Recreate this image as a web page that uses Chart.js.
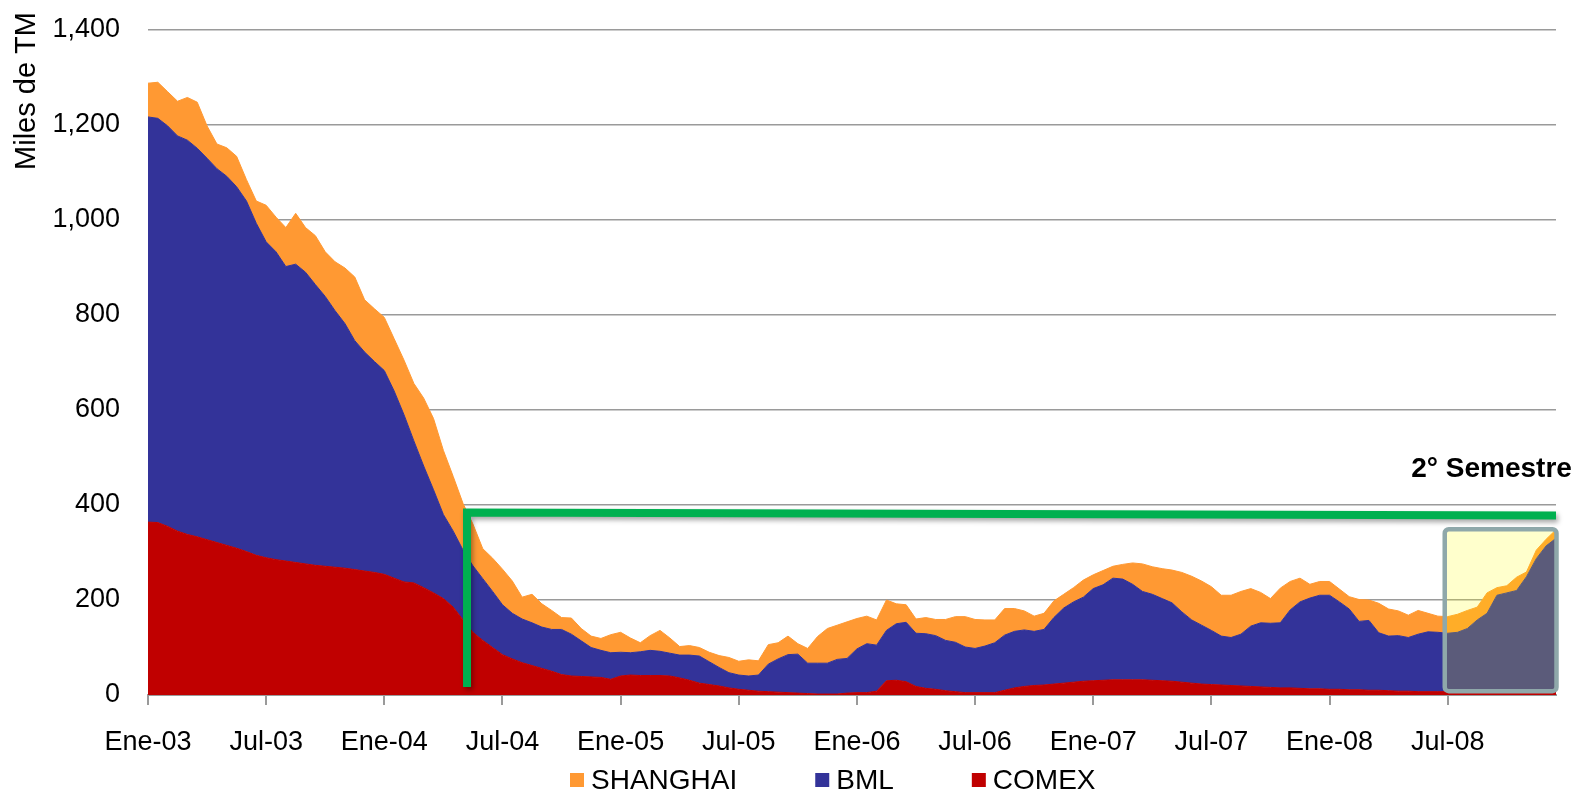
<!DOCTYPE html>
<html>
<head>
<meta charset="utf-8">
<script src="https://cdn.jsdelivr.net/npm/chart.js@4.4.1/dist/chart.umd.min.js"></script>
<style>
html,body{margin:0;padding:0;background:#ffffff;}
#wrap{width:1579px;height:796px;position:relative;overflow:hidden;}
</style>
</head>
<body>
<div id="wrap"><canvas id="c" width="1579" height="796"></canvas></div>
<script>
// ---- categories: half-month periods, Jan 2003 .. Dec 2008 ----
const years = ['03','04','05','06','07','08'];
const monthNames = ['Ene','Feb','Mar','Abr','May','Jun','Jul','Ago','Sep','Oct','Nov','Dic'];
const halves = ['1ª q.','2ª q.'];
const categories = [];
years.forEach(yy => monthNames.forEach(mm => halves.forEach(h => categories.push(mm + '-' + yy + ' ' + h))));

// ---- tick labels (every 6 months = every 12 categories) ----
const tickLabels = ['Ene-03','Jul-03','Ene-04','Jul-04','Ene-05','Jul-05','Ene-06','Jul-06','Ene-07','Jul-07','Ene-08','Jul-08'];

// ---- series (miles de TM) ----
const comex = [
  364,363,355,345,338,333,327,321,315,309,302,294,
  289,285,282,279,276,273,271,269,267,264,261,258,
  254,246,238,236,226,215,203,185,158,132,115,100,
  85,76,68,62,56,50,43,40,39,38,37,33,
  40,42,41,41,41,40,36,31,25,22,19,15,
  12,10,8,7,6,5,4,3,2,2,2,4,
  5,5,8,30,31,28,18,14,12,9,7,5,
  5,5,5,10,15,18,20,21,23,25,27,29,
  30,31,32,32,32,32,31,30,29,27,25,23,
  22,21,20,19,18,17,16,15,15,14,13,13,
  12,12,11,11,10,10,9,8,8,7,7,7,
  7,6,6,6,6,6,6,7,8,9,10,12
];
const bml = [
  853,851,843,832,830,818,803,787,777,761,738,699,
  665,648,620,628,614,591,568,540,515,482,461,444,
  429,394,352,299,256,217,177,160,147,140,130,118,
  105,96,92,90,87,88,95,88,75,62,57,56,
  50,47,50,53,51,48,48,53,57,48,39,32,
  30,30,34,58,70,80,82,64,65,65,73,73,
  92,103,97,106,119,125,112,115,113,106,104,96,
  93,98,105,116,119,119,114,117,140,158,169,177,
  194,201,214,212,201,186,181,173,165,148,133,124,
  114,103,101,109,127,135,135,137,164,182,191,197,
  198,184,170,144,147,121,115,117,113,121,126,125,
  123,126,134,152,166,204,209,213,241,278,304,318
];
const shanghai = [
  71,76,72,73,90,97,68,52,60,64,45,47,
  77,73,82,107,94,103,94,103,117,134,110,111,
  112,110,115,121,143,150,135,115,98,88,63,70,
  75,68,46,60,49,40,25,34,26,24,25,38,
  42,31,19,31,44,32,18,20,18,20,25,32,
  29,34,30,41,34,39,22,31,56,73,72,77,
  64,58,53,64,42,37,30,34,34,44,54,64,
  61,55,48,56,48,40,32,34,35,29,30,36,
  29,30,25,31,45,58,58,63,69,83,92,93,
  92,86,89,90,79,64,52,73,60,50,29,29,
  29,27,26,46,43,62,57,52,47,50,39,34,
  35,38,38,27,43,16,15,28,10,18,14,18
];

// ---- annotations (in data units: category index / miles de TM) ----
const greenLine = {index: 32.4, bottom: 17, top: 384, endIndex: 143, endTop: 378};
const semestreBox = {fromIndex: 131.7, toIndex: 143.05, top: 349, bottom: 8};
const semestreText = {text: '2° Semestre', index: 128.3, value: 459};
const yTitle = 'Miles de TM';

const FONT = '"Liberation Sans", Arial, sans-serif';

const overlay = {
  id: 'overlay',
  afterDatasetsDraw(chart) {
    const {ctx, scales: {x, y}} = chart;
    ctx.save();
    const bx0 = x.getPixelForValue(semestreBox.fromIndex), bx1 = x.getPixelForValue(semestreBox.toIndex);
    const by0 = y.getPixelForValue(semestreBox.top), by1 = y.getPixelForValue(semestreBox.bottom);
    ctx.beginPath();
    ctx.roundRect(bx0, by0, bx1 - bx0, by1 - by0, 4);
    ctx.fillStyle = 'rgba(255,255,0,0.2)';
    ctx.fill();
    ctx.lineWidth = 4.5;
    ctx.strokeStyle = '#8FA8AA';
    ctx.stroke();
    const gx = x.getPixelForValue(greenLine.index);
    const gx1 = x.getPixelForValue(greenLine.endIndex);
    ctx.beginPath();
    ctx.moveTo(gx, y.getPixelForValue(greenLine.bottom));
    ctx.lineTo(gx, y.getPixelForValue(greenLine.top));
    ctx.lineTo(gx1, y.getPixelForValue(greenLine.endTop));
    ctx.lineWidth = 8;
    ctx.lineJoin = 'miter';
    ctx.lineCap = 'butt';
    ctx.strokeStyle = '#00B050';
    ctx.shadowColor = 'rgba(0,0,0,0.35)';
    ctx.shadowBlur = 5;
    ctx.shadowOffsetX = 2;
    ctx.shadowOffsetY = 3;
    ctx.stroke();
    ctx.restore();
    ctx.save();
    ctx.font = 'bold 28px ' + FONT;
    ctx.fillStyle = '#000';
    ctx.textAlign = 'left';
    ctx.textBaseline = 'alphabetic';
    ctx.fillText(semestreText.text, x.getPixelForValue(semestreText.index), y.getPixelForValue(semestreText.value));
    ctx.restore();
  },
  afterDraw(chart) {
    const {ctx} = chart;
    ctx.save();
    ctx.font = '29px ' + FONT;
    ctx.fillStyle = '#000';
    ctx.translate(27, 91);
    ctx.rotate(-Math.PI / 2);
    ctx.textAlign = 'center';
    ctx.textBaseline = 'middle';
    ctx.fillText(yTitle, 0, 0);
    ctx.restore();
    ctx.save();
    ctx.font = '28px ' + FONT;
    ctx.textAlign = 'left';
    ctx.textBaseline = 'alphabetic';
    const order = [2, 1, 0];
    let lx = 570;
    order.forEach(i => {
      const ds = chart.data.datasets[i];
      ctx.fillStyle = ds.backgroundColor;
      ctx.fillRect(lx, 773, 14, 14);
      ctx.fillStyle = '#000';
      ctx.fillText(ds.label, lx + 21, 789);
      lx += 21 + ctx.measureText(ds.label).width + 78;
    });
    ctx.restore();
  }
};

new Chart(document.getElementById('c'), {
  type: 'line',
  data: {
    labels: categories,
    datasets: [
      {label: 'COMEX', data: comex, backgroundColor: '#C00000', borderColor: '#C00000', borderWidth: 1, fill: 'origin', pointRadius: 0, tension: 0},
      {label: 'BML', data: bml, backgroundColor: '#333399', borderColor: '#333399', borderWidth: 1, fill: '-1', pointRadius: 0, tension: 0},
      {label: 'SHANGHAI', data: shanghai, backgroundColor: '#FF9933', borderColor: '#FF9933', borderWidth: 1, fill: '-1', pointRadius: 0, tension: 0}
    ]
  },
  options: {
    responsive: false,
    devicePixelRatio: 1,
    animation: false,
    layout: {padding: {top: 30, right: 23, bottom: 41, left: 0}},
    plugins: {legend: {display: false}, tooltip: {enabled: false}},
    scales: {
      x: {
        offset: false,
        grid: {display: true, drawOnChartArea: false, drawTicks: true, tickLength: 10, color: '#9a9a9a', lineWidth: 2},
        border: {display: true, color: '#9a9a9a', width: 2},
        ticks: {
          autoSkip: false, maxRotation: 0, minRotation: 0, padding: 21,
          color: '#000', font: {family: FONT, size: 27},
          callback: (v, i) => (i % 12 === 0 ? tickLabels[i / 12] : null)
        },
        afterFit: s => { s.height = 60; }
      },
      y: {
        stacked: true, min: 0, max: 1400,
        grid: {color: '#9a9a9a', lineWidth: 1.5, drawTicks: true, tickLength: 28, tickColor: 'rgba(0,0,0,0)'},
        border: {display: false},
        ticks: {
          stepSize: 200, padding: 0, color: '#000', font: {family: FONT, size: 27},
          callback: v => v.toLocaleString('en-US')
        },
        afterFit: s => { s.width = 148; }
      }
    }
  },
  plugins: [overlay]
});
</script>
</body>
</html>
